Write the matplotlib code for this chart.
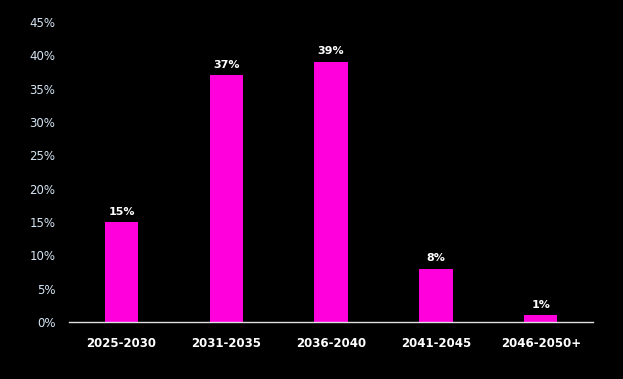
import matplotlib.pyplot as plt
from matplotlib.ticker import FuncFormatter

# Data
categories = ["2025-2030", "2031-2035", "2036-2040", "2041-2045", "2046-2050+"]
values = [15, 37, 39, 8, 1]
yticks = [0, 5, 10, 15, 20, 25, 30, 35, 40, 45]

fig = plt.figure(figsize=(6.23, 3.79), dpi=100, facecolor="black")
ax = fig.add_axes([0.111, 0.150, 0.841, 0.792], facecolor="black")

x = range(len(categories))
bars = ax.bar(x, values, width=0.32, color="#ff00dd")

# Value labels above bars
for rect, v in zip(bars, values):
    ax.annotate(f"{v}%", (rect.get_x() + rect.get_width() / 2, v),
                xytext=(0, 4), textcoords="offset points",
                ha="center", va="bottom", color="white",
                fontsize=8, fontweight="bold")

ax.set_xlim(-0.5, len(categories) - 0.5)
ax.set_ylim(0, 45)
ax.set_yticks(yticks)
ax.yaxis.set_major_formatter(FuncFormatter(lambda v, p: f"{v:.0f}%"))
ax.set_xticks(list(x))
ax.set_xticklabels(categories, color="white", fontsize=8.5, fontweight="bold")

ax.tick_params(axis="y", colors="#d6e6f5", labelsize=8.5, length=0, pad=10)
ax.tick_params(axis="x", length=0, pad=11)

for side in ["top", "right", "left"]:
    ax.spines[side].set_visible(False)
ax.spines["bottom"].set_color("#e0e0e0")
ax.spines["bottom"].set_linewidth(1)

plt.savefig("out.png", dpi=100, facecolor="black")
plt.close()
